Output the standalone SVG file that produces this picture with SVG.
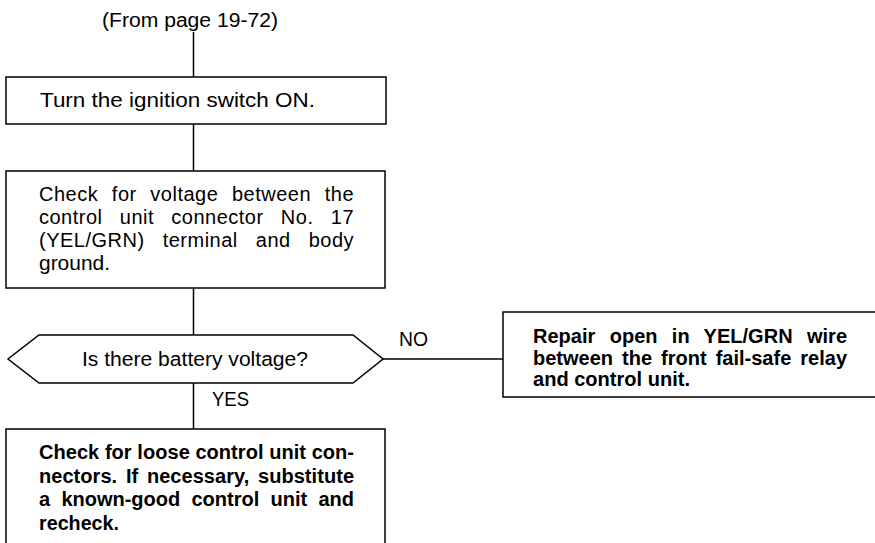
<svg xmlns="http://www.w3.org/2000/svg" width="875" height="543" viewBox="0 0 875 543">
<style>
.box{fill:#fff;stroke:#000;stroke-width:1.5}
.ln{fill:none;stroke:#000;stroke-width:1.5}
text{font-family:"Liberation Sans",Arial,sans-serif;font-size:20px;fill:#000}
.b{font-weight:bold}
.j{letter-spacing:0.5px}
</style>
<rect width="875" height="543" fill="#fff"/>
<g id="connectors">
<line class="ln" x1="193.5" y1="32" x2="193.5" y2="77"/>
<line class="ln" x1="193.5" y1="124" x2="193.5" y2="171"/>
<line class="ln" x1="193.5" y1="288" x2="193.5" y2="335"/>
<line class="ln" x1="193.5" y1="383" x2="193.5" y2="429"/>
<line class="ln" x1="383" y1="359" x2="503" y2="359"/>
<text x="399" y="346" textLength="29" lengthAdjust="spacingAndGlyphs">NO</text>
<text x="212" y="406" textLength="37" lengthAdjust="spacingAndGlyphs">YES</text>
</g>
<g id="start">
<text x="102" y="27" textLength="176" lengthAdjust="spacingAndGlyphs">(From page 19-72)</text>
</g>
<g id="step1">
<rect class="box" x="6" y="77" width="380" height="47"/>
<text x="40" y="107" textLength="275" lengthAdjust="spacingAndGlyphs">Turn the ignition switch ON.</text>
</g>
<g id="step2">
<rect class="box" x="6" y="171" width="379" height="117"/>
<text class="j" x="39" y="201" word-spacing="7.6" textLength="315" lengthAdjust="spacing">Check for voltage between the</text>
<text class="j" x="39" y="224" word-spacing="11.2" textLength="315" lengthAdjust="spacing">control unit connector No. 17</text>
<text class="j" x="39" y="247" word-spacing="11.9" textLength="315" lengthAdjust="spacing">(YEL/GRN) terminal and body</text>
<text x="39" y="270" textLength="71" lengthAdjust="spacingAndGlyphs">ground.</text>
</g>
<g id="decision">
<polygon class="box" points="39,335 353,335 383,359 353,383 39,383 8,359"/>
<text x="82" y="366" textLength="226" lengthAdjust="spacingAndGlyphs">Is there battery voltage?</text>
</g>
<g id="repair">
<rect class="box" x="503" y="312" width="380" height="85"/>
<text class="b" x="533" y="343" word-spacing="8.7" textLength="314" lengthAdjust="spacing">Repair open in YEL/GRN wire</text>
<text class="b" x="533" y="365" word-spacing="3.5" textLength="314" lengthAdjust="spacing">between the front fail-safe relay</text>
<text class="b" x="533" y="386" textLength="157" lengthAdjust="spacingAndGlyphs">and control unit.</text>
</g>
<g id="check">
<rect class="box" x="6" y="429" width="379" height="130"/>
<text class="b" x="39" y="459" textLength="315" lengthAdjust="spacing">Check for loose control unit con-</text>
<text class="b" x="39" y="483" word-spacing="3.1" textLength="315" lengthAdjust="spacing">nectors. If necessary, substitute</text>
<text class="b" x="39" y="506" word-spacing="5.7" textLength="315" lengthAdjust="spacing">a known-good control unit and</text>
<text class="b" x="39" y="530" textLength="80" lengthAdjust="spacingAndGlyphs">recheck.</text>
</g>
</svg>
